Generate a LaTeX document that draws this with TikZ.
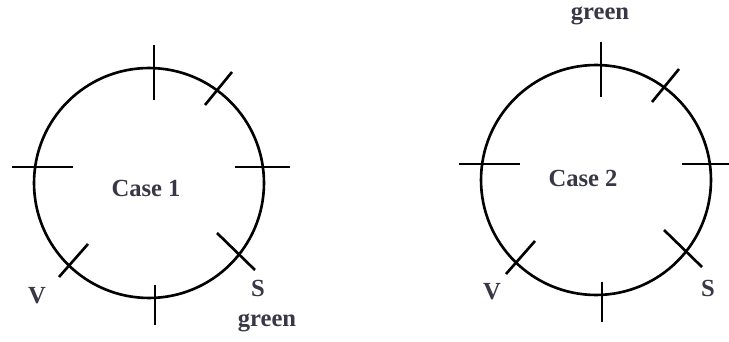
\documentclass[tikz,border=0pt]{standalone}
\usepackage{fontspec}
\setmainfont{Liberation Serif}
\usetikzlibrary{positioning}
\definecolor{textgray}{RGB}{55,55,70}

\begin{document}
\begin{tikzpicture}[x=0.02cm, y=0.02cm,
    ring/.style={draw, circle, line width=1.5pt, minimum size=4.6cm,
                 inner sep=0pt},
    tickline/.style={line width=1.5pt},
    lbl/.style={font=\fontsize{14}{17}\selectfont\bfseries, text=textgray},
]
    \useasboundingbox (0,0) rectangle (729,341);

    \node[ring] (c1) at (149,158) {};
    \node[ring] (c2) at (596,161) {};

    % ticks, relative to each centre
    \foreach \c in {c1,c2}
      \foreach \xa/\ya/\xb/\yb in {5/138/5/83, 6/-102/6/-142,
                                   -137/16/-76/16, 86/16/141/16,
                                   56/78/83/111, 68/-50/106/-87,
                                   -90/-94/-61/-61}
        \draw[tickline] ([shift={(\xa,\ya)}]\c.center)
                     -- ([shift={(\xb,\yb)}]\c.center);

    \node[lbl] (t1) at ([shift={(-3,-5)}]c1.center)      {Case 1};
    \node[lbl] (v1) at ([shift={(-112,-113)}]c1.center)  {V};
    \node[lbl] (s1) at ([shift={(109,-105)}]c1.center)   {S};
    \node[lbl] (g1) at ([shift={(118,-140)}]c1.center)   {green};

    \node[lbl] (t2) at ([shift={(-13,2)}]c2.center)      {Case 2};
    \node[lbl] (v2) at ([shift={(-104,-112)}]c2.center)  {V};
    \node[lbl] (s2) at ([shift={(112,-108)}]c2.center)   {S};
    \node[lbl] (g2) at ([shift={(4,164)}]c2.center)      {green};
\end{tikzpicture}
\end{document}
